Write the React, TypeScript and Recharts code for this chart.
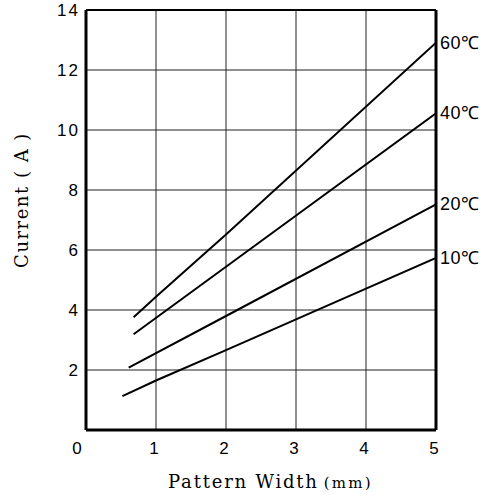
import React from "react";
import { LineChart, Line, XAxis, YAxis, CartesianGrid, ReferenceLine } from "recharts";

const xTicks = [0, 1, 2, 3, 4, 5];
const yTicks = [2, 4, 6, 8, 10, 12, 14];

const series60 = [
  { x: 0.68, y: 3.76 },
  { x: 1, y: 4.44 },
  { x: 2, y: 6.52 },
  { x: 5, y: 12.91 },
];
const series40 = [
  { x: 0.68, y: 3.19 },
  { x: 2, y: 5.44 },
  { x: 5, y: 10.56 },
];
const series20 = [
  { x: 0.61, y: 2.08 },
  { x: 2, y: 3.8 },
  { x: 5, y: 7.52 },
];
const series10 = [
  { x: 0.52, y: 1.13 },
  { x: 1, y: 1.65 },
  { x: 2, y: 2.66 },
  { x: 3, y: 3.69 },
  { x: 5, y: 5.74 },
];

const seriesList = [
  { name: "60℃", data: series60 },
  { name: "40℃", data: series40 },
  { name: "20℃", data: series20 },
  { name: "10℃", data: series10 },
];

const SANS = "'Liberation Sans', Arial, sans-serif";
const SERIF = "'DejaVu Serif', serif";

const XTick = (props: any) => {
  const { x, y, payload } = props;
  const dx = payload.value === 0 ? -9 : -2;
  return (
    <text x={x + dx} y={y + 16} textAnchor="middle" fontFamily={SANS} fontSize={17} fill="#000">
      {payload.value}
    </text>
  );
};

const YTick = (props: any) => {
  const { x, y, payload } = props;
  return (
    <text x={x - 1} y={y} textAnchor="end" dominantBaseline="central" fontFamily={SANS} fontSize={17} letterSpacing={2} fill="#000">
      {payload.value}
    </text>
  );
};

const makeEndLabel = (name: string, len: number) => (props: any) => {
  const { x, y, index } = props;
  if (index !== len - 1) return null;
  return (
    <text x={x + 4} y={y} dominantBaseline="central" fontFamily={SANS} fontSize={18} letterSpacing={0.5} fill="#000">
      {name}
    </text>
  );
};

export default function App() {
  return (
    <div style={{ position: "fixed", left: 0, top: 0, width: 489, height: 495, background: "#fff" }}>
      <LineChart width={489} height={495} margin={{ top: 10, right: 53, left: 0, bottom: 0 }}>
        <CartesianGrid stroke="#222" strokeWidth={1} />
        <XAxis
          type="number"
          dataKey="x"
          domain={[0, 5]}
          ticks={xTicks}
          height={65}
          axisLine={{ stroke: "#000", strokeWidth: 3 }}
          tickLine={false}
          tick={<XTick />}
          allowDataOverflow
        />
        <YAxis
          type="number"
          domain={[0, 14]}
          ticks={yTicks}
          width={86}
          axisLine={{ stroke: "#000", strokeWidth: 3 }}
          tickLine={false}
          tickSize={3}
          tick={<YTick />}
          allowDataOverflow
        />
        <ReferenceLine x={5} stroke="#000" strokeWidth={3} />
        <ReferenceLine y={14} stroke="#000" strokeWidth={2} />
        {seriesList.map((s) => (
          <Line
            key={s.name}
            data={s.data}
            dataKey="y"
            type="linear"
            stroke="#000"
            strokeWidth={2}
            dot={false}
            isAnimationActive={false}
            label={makeEndLabel(s.name, s.data.length)}
          />
        ))}
      </LineChart>
      <svg width={489} height={495} style={{ position: "absolute", left: 0, top: 0, pointerEvents: "none" }}>
        <text
          x={0}
          y={0}
          transform="translate(28,200) rotate(-90)"
          textAnchor="middle"
          fontFamily={SERIF}
          fontSize={18}
          letterSpacing={1.5}
          fill="#000"
        >
          Current ( A )
        </text>
        <text x={168} y={488} fontFamily={SERIF} fontSize={18} letterSpacing={1.8} fill="#000">
          Pattern Width
          <tspan fontSize={15} letterSpacing={2.2} dx={5}>(mm)</tspan>
        </text>
      </svg>
    </div>
  );
}
